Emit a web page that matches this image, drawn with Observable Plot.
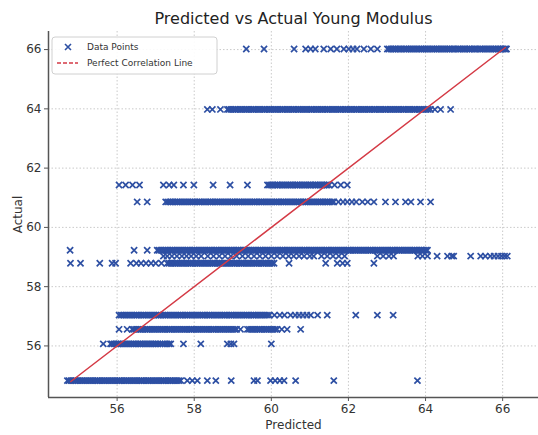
<!DOCTYPE html>
<html>
<head>
<meta charset="utf-8">
<script src="https://cdn.jsdelivr.net/npm/d3@7"></script>
<script src="https://cdn.jsdelivr.net/npm/@observablehq/plot@0.6"></script>
<style>
  body { margin: 0; background: #fff; }
  #chart { position: relative; width: 538px; height: 435px; }
  svg { font-family: "DejaVu Sans", sans-serif; }
</style>
</head>
<body>
<div id="chart"></div>
<script>
// Actual levels (y) and predicted values (x)
const levels = [66.02, 63.98, 61.43, 60.86, 59.23, 59.03, 58.79, 57.04, 56.56, 56.07, 54.83];

const pred6602 = [59.35, 59.81, 60.59, 60.89, 61.02, 61.14, 61.36, 61.54, 61.7, 61.88, 62.01, 62.12, 62.22, 62.4, 62.58, 62.75,
  63.01, 63.1, 63.2, 63.29, 63.38, 63.49, 63.58, 63.67, 63.78, 63.88, 63.97, 64.06, 64.17, 64.26, 64.35, 64.45, 64.55, 64.64,
  64.73, 64.84, 64.93, 65.02, 65.12, 65.21, 65.3, 65.41, 65.5, 65.6, 65.69, 65.79, 65.88, 65.97, 66.05, 66.1,
  63.05, 63.15, 63.24, 63.33, 63.44, 63.53, 63.62, 63.72, 63.83, 63.92, 64.01, 64.11, 64.21, 64.3, 64.4, 64.5, 64.6, 64.69,
  64.78, 64.88, 64.98, 65.07, 65.16, 65.26, 65.35, 65.45, 65.55, 65.64, 65.74, 65.83, 65.92, 66.01, 66.08];
const pred6398 = [58.34, 58.47, 58.68, 58.86, 58.95, 59.05, 59.14, 59.23, 59.33, 59.42, 59.52, 59.61, 59.7, 59.8, 59.89, 59.98,
  60.08, 60.17, 60.27, 60.36, 60.45, 60.55, 60.64, 60.73, 60.83, 60.92, 61.02, 61.11, 61.2, 61.3, 61.39, 61.48, 61.58, 61.67,
  61.77, 61.86, 61.95, 62.05, 62.14, 62.23, 62.33, 62.42, 62.52, 62.61, 62.7, 62.8, 62.89, 62.98, 63.08, 63.17, 63.27, 63.36,
  63.45, 63.55, 63.64, 63.73, 63.83, 63.92, 64.02, 64.13, 64.24, 64.39, 64.65,
  58.9, 59.0, 59.09, 59.19, 59.28, 59.37, 59.47, 59.56, 59.66, 59.75, 59.84, 59.94, 60.03, 60.12, 60.22, 60.31, 60.41, 60.5,
  60.59, 60.69, 60.78, 60.88, 60.97, 61.06, 61.16, 61.25, 61.34, 61.44, 61.53, 61.62, 61.72, 61.81, 61.91, 62.0, 62.09, 62.19,
  62.28, 62.38, 62.47, 62.56, 62.66, 62.75, 62.84, 62.94, 63.03, 63.12, 63.22, 63.31, 63.41, 63.5, 63.59, 63.69, 63.78, 63.87,
  63.97, 64.07];
const pred6143 = [56.05, 56.22, 56.4, 56.58, 57.2, 57.35, 57.47, 57.72, 57.99, 58.49, 58.93, 59.38, 59.9, 60.0, 60.09, 60.18,
  60.28, 60.37, 60.47, 60.56, 60.66, 60.75, 60.85, 60.94, 61.03, 61.13, 61.22, 61.32, 61.41, 61.5, 61.64, 61.8, 61.97,
  59.95, 60.04, 60.14, 60.23, 60.32, 60.42, 60.51, 60.61, 60.7, 60.8, 60.89, 60.99, 61.08, 61.17, 61.27, 61.36, 61.45];
const pred6086 = [56.52, 56.78, 57.26, 57.36, 57.45, 57.55, 57.64, 57.74, 57.83, 57.93, 58.02, 58.12, 58.21, 58.3, 58.4, 58.49,
  58.59, 58.68, 58.78, 58.87, 58.97, 59.06, 59.16, 59.25, 59.35, 59.44, 59.54, 59.63, 59.73, 59.82, 59.92, 60.01, 60.11, 60.2,
  60.3, 60.39, 60.49, 60.58, 60.68, 60.77, 60.87, 60.96, 61.06, 61.15, 61.25, 61.34, 61.44, 61.53, 61.62, 61.74, 61.86, 61.97,
  62.09, 62.2, 62.36, 62.5, 62.66, 62.96, 63.22, 63.48, 63.62, 63.87, 64.13,
  57.31, 57.4, 57.5, 57.59, 57.69, 57.78, 57.88, 57.97, 58.07, 58.16, 58.26, 58.35, 58.44, 58.54, 58.63, 58.73, 58.82, 58.92,
  59.01, 59.11, 59.2, 59.3, 59.39, 59.49, 59.58, 59.68, 59.77, 59.87, 59.96, 60.06, 60.15, 60.25, 60.34, 60.44, 60.53, 60.63,
  60.72, 60.82, 60.91, 61.01, 61.1, 61.2, 61.29, 61.39, 61.48, 61.58];
const pred5923 = [54.78, 56.44, 56.78, 57.04, 57.13, 57.23, 57.32, 57.42, 57.51, 57.61, 57.7, 57.8, 57.89, 57.99, 58.08, 58.18,
  58.27, 58.37, 58.46, 58.56, 58.65, 58.75, 58.84, 58.94, 59.03, 59.13, 59.22, 59.32, 59.41, 59.51, 59.6, 59.7, 59.79, 59.89,
  59.98, 60.08, 60.17, 60.27, 60.36, 60.46, 60.55, 60.65, 60.74, 60.84, 60.93, 61.03, 61.12, 61.22, 61.31, 61.41, 61.5, 61.6,
  61.69, 61.79, 61.88, 61.98, 62.07, 62.17, 62.26, 62.36, 62.45, 62.55, 62.64, 62.74, 62.83, 62.93, 63.02, 63.12, 63.21, 63.31,
  63.4, 63.5, 63.59, 63.69, 63.78, 63.88, 63.97, 64.05,
  57.08, 57.18, 57.27, 57.37, 57.46, 57.56, 57.65, 57.75, 57.84, 57.94, 58.03, 58.13, 58.22, 58.32, 58.41, 58.51, 58.6, 58.7,
  58.79, 58.89, 58.98, 59.08, 59.17, 59.27, 59.36, 59.46, 59.55, 59.65, 59.74, 59.84, 59.93, 60.03, 60.12, 60.22, 60.31, 60.41,
  60.5, 60.6, 60.69, 60.79, 60.88, 60.98, 61.07, 61.17, 61.26, 61.36, 61.45, 61.55, 61.64, 61.74, 61.83, 61.93, 62.02, 62.12,
  62.21, 62.31, 62.4, 62.5, 62.59, 62.69, 62.78, 62.88, 62.97, 63.07, 63.16, 63.26, 63.35, 63.45, 63.54, 63.64, 63.73, 63.83,
  63.92, 64.01];
const pred5903 = [57.2, 57.3, 57.42, 57.55, 57.68, 57.8, 57.92, 58.05, 58.18, 58.35, 58.5, 58.65, 58.8, 58.95, 59.1, 59.25,
  59.4, 59.55, 59.7, 59.85, 60.0, 60.15, 60.3, 60.45, 60.58, 60.72, 60.85, 61.0, 61.1, 61.3, 61.45, 61.6, 61.75, 61.9, 62.75,
  62.9, 63.05, 63.17, 63.8, 63.92, 64.05, 64.3, 64.57, 64.68, 64.73, 65.17, 65.43, 65.55, 65.68, 65.78, 65.88, 65.97, 66.05, 66.12];
const pred5879 = [54.79, 55.05, 55.55, 55.87, 55.96, 56.35, 56.5, 56.62, 56.75, 56.88, 57.0, 57.15, 57.3, 57.4, 57.5, 57.59,
  57.69, 57.78, 57.88, 57.97, 58.07, 58.16, 58.26, 58.35, 58.45, 58.54, 58.64, 58.73, 58.83, 58.92, 59.02, 59.11, 59.21, 59.3,
  59.4, 59.49, 59.59, 59.68, 59.78, 59.87, 59.97, 60.07, 60.46, 61.41, 61.71, 61.85, 61.97, 62.66,
  57.35, 57.45, 57.54, 57.64, 57.73, 57.83, 57.92, 58.02, 58.11, 58.21, 58.3, 58.4, 58.49, 58.59, 58.68, 58.78, 58.87, 58.97,
  59.06, 59.16, 59.25, 59.35, 59.44, 59.54, 59.63, 59.73, 59.82, 59.92, 60.02];
const pred5704 = [56.05, 56.14, 56.24, 56.33, 56.43, 56.52, 56.62, 56.71, 56.81, 56.9, 57.0, 57.09, 57.19, 57.28, 57.38, 57.47,
  57.57, 57.66, 57.76, 57.85, 57.95, 58.04, 58.14, 58.23, 58.33, 58.42, 58.52, 58.61, 58.71, 58.8, 58.9, 58.99, 59.09, 59.18,
  59.28, 59.37, 59.47, 59.56, 59.66, 59.75, 59.85, 59.95, 60.08, 60.22, 60.34, 60.5, 60.62, 60.72, 60.82, 60.92, 61.02, 61.2,
  61.45, 62.19, 62.75, 63.16,
  56.1, 56.19, 56.29, 56.38, 56.48, 56.57, 56.67, 56.76, 56.86, 56.95, 57.05, 57.14, 57.24, 57.33, 57.43, 57.52, 57.62, 57.71,
  57.81, 57.9, 58.0, 58.09, 58.19, 58.28, 58.38, 58.47, 58.57, 58.66, 58.76, 58.85, 58.95, 59.04, 59.14, 59.23, 59.33, 59.42,
  59.52, 59.61, 59.71, 59.8, 59.9];
const pred5656 = [56.05, 56.26, 56.39, 56.48, 56.58, 56.67, 56.77, 56.86, 56.96, 57.05, 57.15, 57.24, 57.34, 57.43, 57.53, 57.62,
  57.72, 57.81, 57.91, 58.0, 58.1, 58.19, 58.29, 58.38, 58.48, 58.57, 58.67, 58.76, 58.86, 58.95, 59.05, 59.2, 59.38, 59.48,
  59.57, 59.67, 59.76, 59.86, 59.95, 60.05, 60.15, 60.27, 60.41, 60.76,
  56.43, 56.53, 56.62, 56.72, 56.81, 56.91, 57.0, 57.1, 57.19, 57.29, 57.38, 57.48, 57.57, 57.67, 57.76, 57.86, 57.95, 58.05,
  58.14, 58.24, 58.33, 58.43, 58.52, 58.62, 58.71, 58.81, 58.9, 59.0, 59.1, 59.43, 59.52, 59.62, 59.71, 59.81, 59.9, 60.0, 60.1];
const pred5607 = [55.64, 55.83, 55.92, 56.02, 56.11, 56.21, 56.3, 56.4, 56.49, 56.59, 56.68, 56.78, 56.87, 56.97, 57.06, 57.18,
  57.3, 57.39, 57.72, 58.17, 58.86, 58.95, 59.03, 60.0,
  55.87, 55.97, 56.06, 56.16, 56.25, 56.35, 56.44, 56.54, 56.63, 56.73, 56.82, 56.92, 57.01, 57.12, 57.24, 57.35];
const pred5483 = [54.71, 54.8, 54.9, 54.99, 55.09, 55.18, 55.28, 55.37, 55.47, 55.56, 55.66, 55.75, 55.85, 55.94, 56.04, 56.13,
  56.23, 56.32, 56.42, 56.51, 56.61, 56.7, 56.8, 56.89, 56.99, 57.08, 57.18, 57.27, 57.37, 57.46, 57.56, 57.65, 57.82, 57.95,
  58.08, 58.34, 58.56, 58.96, 59.55, 59.64, 59.98, 60.1, 60.22, 60.33, 60.63, 61.62, 63.79,
  54.75, 54.85, 54.94, 55.04, 55.13, 55.23, 55.32, 55.42, 55.51, 55.61, 55.7, 55.8, 55.89, 55.99, 56.08, 56.18, 56.27, 56.37,
  56.46, 56.56, 56.65, 56.75, 56.84, 56.94, 57.03, 57.13, 57.22, 57.32, 57.41, 57.51, 57.6];

const predByLevel = [pred6602, pred6398, pred6143, pred6086, pred5923, pred5903, pred5879, pred5704, pred5656, pred5607, pred5483];

const perfectLine = [54.8, 66.07];
const xTicks = [56, 58, 60, 62, 64, 66];
const yTicks = [56, 58, 60, 62, 64, 66];
const titleText = "Predicted vs Actual Young Modulus";
const legendLabels = ["Data Points", "Perfect Correlation Line"];

const points = [];
levels.forEach((a, i) => predByLevel[i].forEach(p => points.push({predicted: p, actual: a})));
const lineData = perfectLine.map(v => ({v}));

const blue = "#2d4fa3";
const red = "#d43a45";
const xDom = [54.22, 66.93];
const yDom = [54.26, 66.61];

const plot = Plot.plot({
  width: 538,
  height: 435,
  marginLeft: 48,
  marginRight: 0,
  marginTop: 31,
  marginBottom: 38,
  style: {fontFamily: "DejaVu Sans, sans-serif", background: "#fff", overflow: "visible"},
  x: {domain: xDom},
  y: {domain: yDom},
  marks: [
    Plot.gridX(xTicks, {stroke: "#bdbdbd", strokeOpacity: 1, strokeDasharray: "1.5,2", strokeWidth: 0.8}),
    Plot.gridY(yTicks, {stroke: "#bdbdbd", strokeOpacity: 1, strokeDasharray: "1.5,2", strokeWidth: 0.8}),
    Plot.dot(points, {x: "predicted", y: "actual", symbol: "times", r: 2.9, stroke: blue, strokeWidth: 1.7}),
    Plot.line(lineData, {x: "v", y: "v", stroke: red, strokeWidth: 1.5}),
    Plot.ruleX([xDom[0]], {stroke: "#555", strokeWidth: 1.5}),
    Plot.ruleY([yDom[0]], {stroke: "#555", strokeWidth: 1.5}),
    Plot.axisX(xTicks, {tickSize: 4, tickPadding: 3, fontSize: 12, color: "#333", stroke: "#555", label: null}),
    Plot.axisY(yTicks, {tickSize: 4, tickPadding: 3, fontSize: 12, color: "#333", stroke: "#555", label: null}),
    Plot.text(["Predicted"], {frameAnchor: "bottom", dy: 28, fontSize: 12, fill: "#333", lineAnchor: "middle"}),
    Plot.text(["Actual"], {frameAnchor: "left", dx: -30, rotate: -90, fontSize: 12, fill: "#333", textAnchor: "middle"}),
    Plot.text([titleText], {frameAnchor: "top", dy: -13, fontSize: 16, fill: "#222", lineAnchor: "middle"})
  ]
});

document.getElementById("chart").appendChild(plot);

// Legend drawn into the SVG
const svg = d3.select(plot);
const g = svg.append("g").attr("transform", "translate(52,37)").attr("text-anchor", "start");
g.append("rect").attr("width", 165).attr("height", 37).attr("rx", 3)
  .attr("fill", "#fff").attr("fill-opacity", 0.9).attr("stroke", "#d0d0d0");
const mx = 16, my1 = 10;
g.append("path").attr("d", `M${mx-3},${my1-3}L${mx+3},${my1+3}M${mx-3},${my1+3}L${mx+3},${my1-3}`)
  .attr("stroke", blue).attr("stroke-width", 1.6);
g.append("line").attr("x1", 5).attr("x2", 26).attr("y1", 26).attr("y2", 26)
  .attr("stroke", red).attr("stroke-width", 1.5).attr("stroke-dasharray", "4,2");
g.append("text").attr("x", 35).attr("y", 10).attr("dy", "0.35em").attr("font-size", 9).attr("fill", "#333")
  .attr("text-anchor", "start").text(legendLabels[0]);
g.append("text").attr("x", 35).attr("y", 26).attr("dy", "0.35em").attr("font-size", 9).attr("fill", "#333")
  .attr("text-anchor", "start").text(legendLabels[1]);
</script>
</body>
</html>
